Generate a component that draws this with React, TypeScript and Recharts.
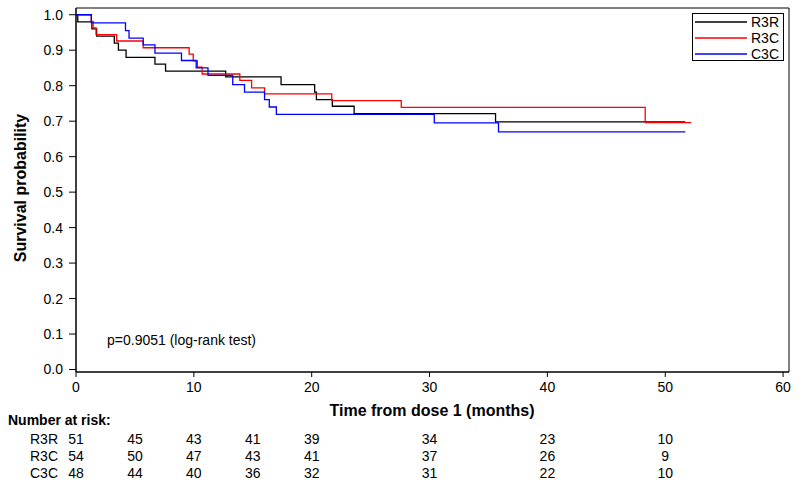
import React from 'react';
import { LineChart, Line, XAxis, YAxis, Legend, ReferenceArea } from 'recharts';

// Kaplan-Meier step points (time in months, survival probability)
const timeR3R = [0, 0.15, 1.35, 1.75, 3.25, 3.6, 4.25, 6.7, 7.6, 12.7, 17.4, 20.25, 20.4, 21.75, 23.6, 35.6, 51.7];
const survR3R = [1.0, 0.98, 0.96, 0.94, 0.92, 0.9, 0.88, 0.861, 0.841, 0.825, 0.803, 0.782, 0.761, 0.742, 0.721, 0.698, 0.698];

const timeR3C = [0, 1.3, 1.45, 1.7, 3.45, 5.7, 9.6, 9.95, 10.3, 10.7, 13.9, 14.9, 16.0, 21.7, 27.6, 48.3, 52.2];
const survR3C = [1.0, 0.981, 0.963, 0.944, 0.926, 0.907, 0.889, 0.87, 0.852, 0.833, 0.815, 0.794, 0.777, 0.758, 0.739, 0.696, 0.696];

const timeC3C = [0, 1.3, 4.2, 4.5, 5.7, 6.7, 8.95, 10.2, 11.2, 13.3, 14.3, 16.0, 16.4, 17.0, 30.4, 35.85, 51.7];
const survC3C = [1.0, 0.977, 0.955, 0.934, 0.915, 0.892, 0.871, 0.85, 0.829, 0.803, 0.782, 0.761, 0.74, 0.719, 0.695, 0.67, 0.67];

const riskTimes = [0, 5, 10, 15, 20, 30, 40, 50];
const riskR3R = [51, 45, 43, 41, 39, 34, 23, 10];
const riskR3C = [54, 50, 47, 43, 41, 37, 26, 9];
const riskC3C = [48, 44, 40, 36, 32, 31, 22, 10];

const xTicks = [0, 10, 20, 30, 40, 50, 60];
const yTicks = [0, 0.1, 0.2, 0.3, 0.4, 0.5, 0.6, 0.7, 0.8, 0.9, 1.0];

const groups = [
  { name: 'R3R', color: '#000000', times: timeR3R, surv: survR3R, risk: riskR3R },
  { name: 'R3C', color: '#ff0000', times: timeR3C, surv: survR3C, risk: riskR3C },
  { name: 'C3C', color: '#0000ff', times: timeC3C, surv: survC3C, risk: riskC3C },
];

const FONT = '"Liberation Sans", Arial, Helvetica, sans-serif';
const X_DOMAIN: [number, number] = [0, 60.5];
const Y_DOMAIN: [number, number] = [-0.007, 1.019];
const RISK_ROW_Y = [438.5, 456, 473];

const RiskTick = (props: any) => {
  const { x, payload } = props;
  const idx = riskTimes.indexOf(payload.value);
  if (idx < 0) return null;
  return (
    <g>
      {idx === 0 && (
        <text x={8} y={420} fontSize={14} fontWeight="bold" fill="#000" dominantBaseline="central">
          Number at risk:
        </text>
      )}
      {groups.map((g, r) => (
        <g key={g.name}>
          {idx === 0 && (
            <text x={30} y={RISK_ROW_Y[r]} fontSize={14} fill="#000" dominantBaseline="central">
              {g.name}
            </text>
          )}
          <text x={x} y={RISK_ROW_Y[r]} fontSize={14} fill="#000" textAnchor="middle" dominantBaseline="central">
            {g.risk[idx]}
          </text>
        </g>
      ))}
    </g>
  );
};

const YTitle = () => (
  <text
    x={20}
    y={188}
    transform="rotate(-90, 20, 188)"
    textAnchor="middle"
    dominantBaseline="central"
    fontSize={16}
    fontWeight="bold"
    fill="#000"
  >
    Survival probability
  </text>
);

const XTitle = () => (
  <text x={432} y={410} textAnchor="middle" dominantBaseline="central" fontSize={16} fontWeight="bold" fill="#000">
    Time from dose 1 (months)
  </text>
);

const LegendBox = (props: any) => {
  const items = (props.payload || []).filter((it: any) => groups.some((g) => g.name === it.value));
  items.sort(
    (a: any, b: any) => groups.findIndex((g) => g.name === a.value) - groups.findIndex((g) => g.name === b.value)
  );
  return (
    <div style={{ border: '1px solid #000', width: 90, height: 46, background: '#fff', boxSizing: 'content-box' }}>
      {items.map((it: any) => (
        <div key={it.value} style={{ display: 'flex', alignItems: 'center', height: 16, fontSize: 14, lineHeight: '16px' }}>
          <svg width={58} height={16} style={{ display: 'block' }}>
            <line x1={2} y1={8} x2={54} y2={8} stroke={it.color} strokeWidth={1.3} />
          </svg>
          <span style={{ color: '#000' }}>{it.value}</span>
        </div>
      ))}
    </div>
  );
};

export default function App() {
  return (
    <div style={{ position: 'absolute', left: 0, top: 0, width: 800, height: 487, background: '#fff', fontFamily: FONT }}>
      <LineChart width={800} height={487} margin={{ top: 8, right: 11, left: 0, bottom: 0 }} style={{ fontFamily: FONT }}>
        <XAxis
          type="number"
          dataKey="t"
          domain={X_DOMAIN}
          allowDataOverflow
          ticks={xTicks}
          interval={0}
          height={45}
          tickSize={5}
          tickMargin={5}
          stroke="#000"
          tick={{ fill: '#000', fontSize: 14 }}
          label={<XTitle />}
        />
        <XAxis
          xAxisId="risk"
          type="number"
          dataKey="t"
          domain={X_DOMAIN}
          allowDataOverflow
          ticks={riskTimes}
          interval={0}
          height={70}
          axisLine={false}
          tickLine={false}
          tick={<RiskTick />}
        />
        <YAxis
          type="number"
          domain={Y_DOMAIN}
          allowDataOverflow
          ticks={yTicks}
          interval={0}
          width={76}
          tickSize={7}
          tickMargin={6}
          stroke="#000"
          tick={{ fill: '#000', fontSize: 14 }}
          tickFormatter={(v: number) => v.toFixed(1)}
          label={<YTitle />}
        />
        <ReferenceArea
          x1={X_DOMAIN[0]}
          x2={X_DOMAIN[1]}
          y1={Y_DOMAIN[0]}
          y2={Y_DOMAIN[1]}
          fill="none"
          fillOpacity={0}
          stroke="#000"
          strokeWidth={1}
          ifOverflow="visible"
        />
        {/* invisible series so the risk-table axis gets its scale */}
        <Line
          xAxisId="risk"
          data={riskTimes.map((t) => ({ t, s: 0.5 }))}
          dataKey="s"
          stroke="none"
          dot={false}
          activeDot={false}
          legendType="none"
          isAnimationActive={false}
        />
        {groups.map((g) => (
          <Line
            key={g.name}
            name={g.name}
            data={g.times.map((t, i) => ({ t, s: g.surv[i] }))}
            dataKey="s"
            type="stepAfter"
            stroke={g.color}
            strokeWidth={1.3}
            dot={false}
            activeDot={false}
            isAnimationActive={false}
          />
        ))}
        <Legend
          layout="horizontal"
          verticalAlign="middle"
          align="center"
          content={<LegendBox />}
          wrapperStyle={{ position: 'absolute', left: 692, top: 13, width: 92, height: 48 }}
        />
      </LineChart>
      <div style={{ position: 'absolute', left: 107, top: 332, fontSize: 14, lineHeight: '16px', color: '#000' }}>
        p=0.9051 (log-rank test)
      </div>
    </div>
  );
}
